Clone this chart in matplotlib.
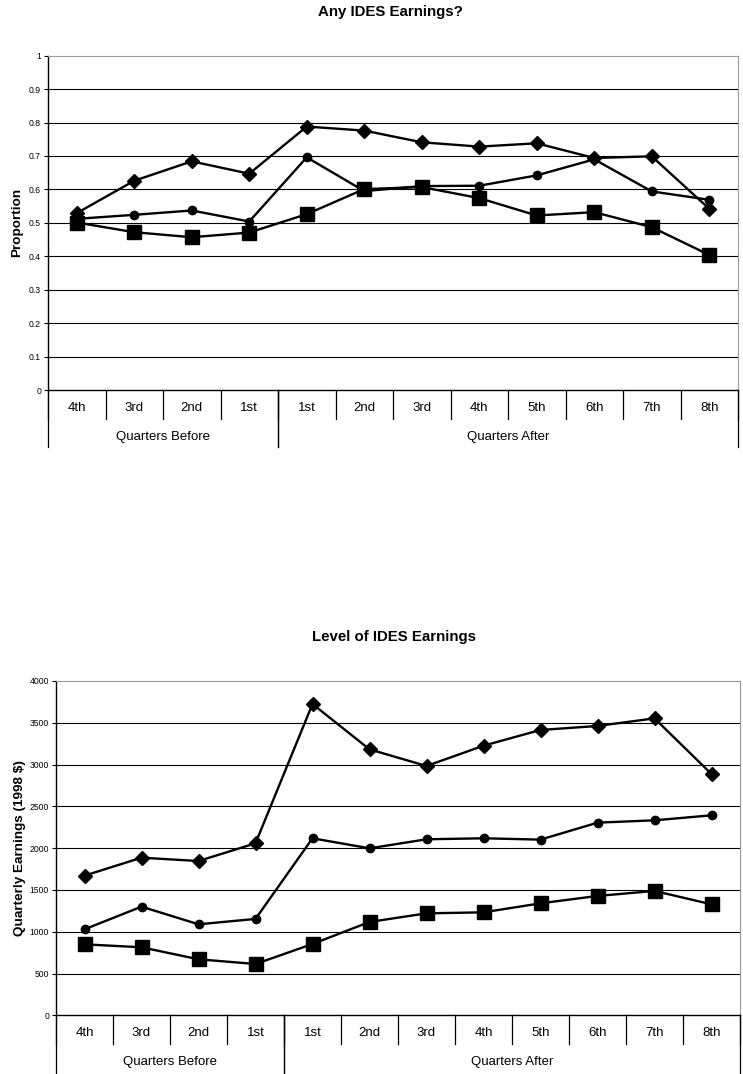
import matplotlib.pyplot as plt

plt.rcParams["font.family"] = ["Liberation Sans", "DejaVu Sans"]

quarters = ["4th", "3rd", "2nd", "1st", "1st", "2nd", "3rd", "4th", "5th", "6th", "7th", "8th"]
groups = [("Quarters Before", 0, 3), ("Quarters After", 4, 11)]

# proportion with any IDES earnings
any_diamond = [0.529, 0.626, 0.684, 0.647, 0.788, 0.776, 0.741, 0.728, 0.738, 0.694, 0.699, 0.542]
any_circle = [0.512, 0.524, 0.537, 0.504, 0.696, 0.595, 0.610, 0.611, 0.642, 0.690, 0.594, 0.569]
any_square = [0.501, 0.472, 0.457, 0.471, 0.526, 0.601, 0.607, 0.574, 0.522, 0.532, 0.487, 0.404]

# level of quarterly earnings, 1998 dollars
lvl_diamond = [1671, 1886, 1846, 2058, 3725, 3182, 2983, 3226, 3414, 3462, 3553, 2887]
lvl_circle = [1029, 1300, 1089, 1153, 2118, 1998, 2106, 2118, 2102, 2305, 2333, 2393]
lvl_square = [849, 814, 670, 614, 853, 1117, 1220, 1232, 1340, 1428, 1488, 1328]


def draw_panel(ax, diamond, circle, square, yticks, ytick_labels, ylabel, labelpad):
    x = range(len(quarters))
    line = dict(color="black", lw=1.7, clip_on=False, zorder=3)
    ax.plot(x, circle, marker="o", ms=6, **line)
    ax.plot(x, square, marker="s", ms=9.5, **line)
    ax.plot(x, diamond, marker="D", ms=7.5, **line)

    ax.set_xlim(-0.5, len(quarters) - 0.5)
    ax.set_ylim(yticks[0], yticks[-1])
    ax.set_yticks(yticks)
    ax.set_yticklabels(ytick_labels, fontsize=6.2)
    ax.tick_params(axis="y", length=3, width=0.8, pad=2)
    ax.set_xticks([])
    for y in yticks[1:-1]:
        ax.axhline(y, color="black", lw=0.8, zorder=1)

    ax.spines["top"].set_color("#999999")
    ax.spines["right"].set_color("#999999")
    ax.spines["left"].set_linewidth(1.0)
    ax.spines["bottom"].set_linewidth(1.0)
    ax.set_ylabel(ylabel, fontsize=9.7, fontweight="bold", labelpad=labelpad)

    # two-level category axis drawn below the plot
    trans = ax.get_xaxis_transform()
    for i, q in enumerate(quarters):
        ax.text(i, -0.054, q, transform=trans, ha="center", va="center", fontsize=9.5)
    for edge in range(len(quarters) + 1):
        ax.plot([edge - 0.5, edge - 0.5], [0, -0.087], transform=trans,
                color="black", lw=0.9, clip_on=False)
    for name, start, end in groups:
        ax.text((start + end) / 2, -0.1406, name, transform=trans,
                ha="center", va="center", fontsize=9.5)
        for edge in (start - 0.5, end + 0.5):
            ax.plot([edge, edge], [0, -0.172], transform=trans,
                    color="black", lw=0.9, clip_on=False)


fig = plt.figure(figsize=(7.43, 10.74), dpi=100)

ax1 = fig.add_axes([48 / 743, 1 - 390 / 1074, 690 / 743, 334.3 / 1074])
draw_panel(ax1, any_diamond, any_circle, any_square,
           [i / 10 for i in range(11)],
           ["0", "0.1", "0.2", "0.3", "0.4", "0.5", "0.6", "0.7", "0.8", "0.9", "1"],
           "Proportion", 4)
fig.text(390 / 743, 1 - 12 / 1074, "Any IDES Earnings?", ha="center", va="center",
         fontsize=10.8, fontweight="bold")

ax2 = fig.add_axes([56 / 743, 1 - 1015.3 / 1074, 684 / 743, 334.3 / 1074])
draw_panel(ax2, lvl_diamond, lvl_circle, lvl_square,
           list(range(0, 4001, 500)),
           [str(v) for v in range(0, 4001, 500)],
           "Quarterly Earnings (1998 $)", 2.5)
fig.text(394 / 743, 1 - 637 / 1074, "Level of IDES Earnings", ha="center", va="center",
         fontsize=10.8, fontweight="bold")

fig.savefig("out.png", dpi=100)
